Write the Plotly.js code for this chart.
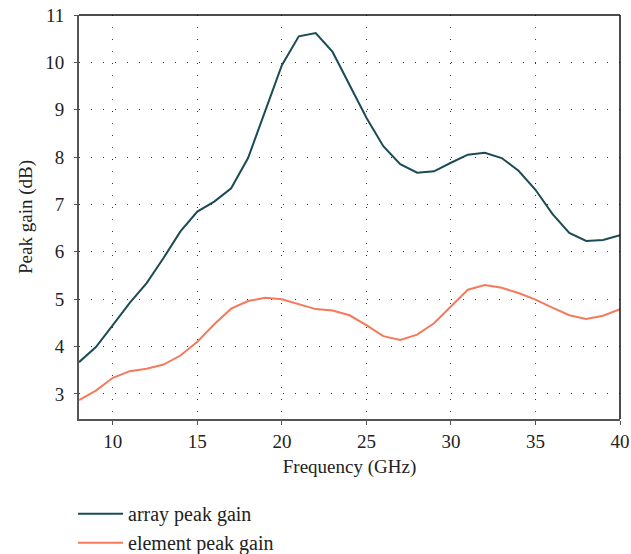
<!DOCTYPE html>
<html>
<head>
<meta charset="utf-8">
<script src="https://cdn.plot.ly/plotly-3.0.1.min.js"></script>
<style>html,body{margin:0;padding:0;background:#fff}</style>
</head>
<body>
<div id="chart" style="width:631px;height:554px"></div>
<script>
const frequency = [8,9,10,11,12,13,14,15,16,17,18,19,20,21,22,23,24,25,26,27,28,29,30,31,32,33,34,35,36,37,38,39,40];
const arrayPeakGain = [3.67,3.99,4.45,4.92,5.34,5.87,6.43,6.85,7.06,7.34,7.98,8.95,9.94,10.55,10.62,10.22,9.51,8.83,8.23,7.85,7.67,7.70,7.88,8.05,8.09,7.98,7.71,7.31,6.80,6.40,6.23,6.25,6.35];
const elementPeakGain = [2.87,3.07,3.34,3.48,3.53,3.62,3.81,4.10,4.47,4.80,4.96,5.03,5.00,4.89,4.79,4.76,4.66,4.45,4.22,4.14,4.25,4.49,4.85,5.20,5.30,5.24,5.13,4.99,4.82,4.66,4.58,4.65,4.79];
const seriesNames = ["array peak gain", "element peak gain"];
const xTicks = [10,15,20,25,30,35,40];
const yTicks = [3,4,5,6,7,8,9,10,11];

const font = {family: 'Liberation Serif', size: 19, color: '#222'};
const legendFont = {family: 'Liberation Serif', size: 20, color: '#222'};

const traces = [
  {x: frequency, y: arrayPeakGain, name: seriesNames[0], type: 'scatter', mode: 'lines',
   line: {color: '#1b4b56', width: 2}},
  {x: frequency, y: elementPeakGain, name: seriesNames[1], type: 'scatter', mode: 'lines',
   line: {color: '#f47a5b', width: 2}}
];

const layout = {
  width: 631, height: 554,
  margin: {l: 79, r: 11, t: 15, b: 135},
  paper_bgcolor: '#fff', plot_bgcolor: '#fff',
  font: font,
  showlegend: true,
  legend: {x: -0.011, xanchor: 'left', yref: 'container', y: 0.108, yanchor: 'top', orientation: 'v',
           font: legendFont, bgcolor: 'rgba(0,0,0,0)', tracegroupgap: 0, itemwidth: 45},
  xaxis: {
    range: [8, 40], tickvals: xTicks, ticktext: xTicks.map(String),
    showline: true, linecolor: '#555', linewidth: 2,
    ticks: 'outside', ticklen: 4, tickcolor: '#555', tickwidth: 1,
    showgrid: true, gridcolor: '#333', gridwidth: 1, griddash: '1px,11px',
    zeroline: false, tickfont: font,
    title: {text: 'Frequency (GHz)', font: font, standoff: 9}
  },
  yaxis: {
    range: [2.47, 11], tickvals: yTicks, ticktext: yTicks.map(String),
    showline: true, linecolor: '#555', linewidth: 2,
    ticks: 'outside', ticklen: 3, tickcolor: '#555', tickwidth: 1,
    ticklabelstandoff: 6,
    showgrid: true, gridcolor: '#333', gridwidth: 1, griddash: '1px,11px',
    zeroline: false, tickfont: font,
    title: {text: 'Peak gain (dB)', font: font, standoff: 8}
  },
  shapes: [
    {type: 'line', xref: 'paper', yref: 'paper', x0: 0, x1: 1, y0: 1, y1: 1, line: {color: '#111', width: 1.5}},
    {type: 'line', xref: 'paper', yref: 'paper', x0: 1, x1: 1, y0: 0, y1: 1, line: {color: '#111', width: 1.5}}
  ]
};

Plotly.newPlot('chart', traces, layout, {displayModeBar: false, staticPlot: true});
</script>
</body>
</html>
